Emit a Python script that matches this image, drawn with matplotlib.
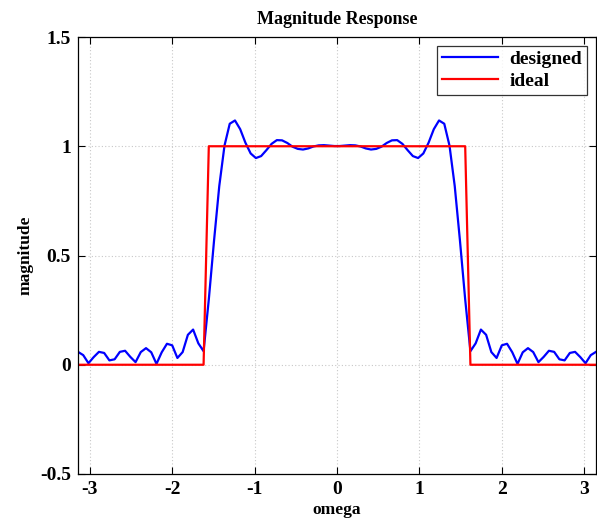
import numpy as np
import matplotlib
matplotlib.use("Agg")
import matplotlib.pyplot as plt

# frequency grid (100 samples from -pi to pi)
omega = np.linspace(-np.pi, np.pi, 100)

# magnitude of designed filter
designed = [
    0.059, 0.044, 0.007, 0.035, 0.059, 0.054, 0.020, 0.025, 0.059, 0.064,
    0.036, 0.012, 0.058, 0.076, 0.057, 0.004, 0.057, 0.096, 0.089, 0.031,
    0.058, 0.137, 0.161, 0.098, 0.062, 0.299, 0.568, 0.818, 1.003, 1.103,
    1.118, 1.078, 1.016, 0.967, 0.946, 0.955, 0.982, 1.011, 1.028, 1.027,
    1.015, 0.998, 0.988, 0.985, 0.990, 0.999, 1.004, 1.005, 1.003, 1.001,
    1.001, 1.003, 1.005, 1.004, 0.999, 0.990, 0.985, 0.988, 0.998, 1.015,
    1.027, 1.028, 1.011, 0.982, 0.955, 0.946, 0.967, 1.016, 1.078, 1.118,
    1.103, 1.003, 0.818, 0.568, 0.299, 0.062, 0.098, 0.161, 0.137, 0.058,
    0.031, 0.089, 0.096, 0.057, 0.004, 0.057, 0.076, 0.058, 0.012, 0.036,
    0.064, 0.059, 0.025, 0.020, 0.054, 0.059, 0.035, 0.007, 0.044, 0.059,
]

# ideal lowpass response
ideal = [
    0, 0, 0, 0, 0, 0, 0, 0, 0, 0,
    0, 0, 0, 0, 0, 0, 0, 0, 0, 0,
    0, 0, 0, 0, 0, 1, 1, 1, 1, 1,
    1, 1, 1, 1, 1, 1, 1, 1, 1, 1,
    1, 1, 1, 1, 1, 1, 1, 1, 1, 1,
    1, 1, 1, 1, 1, 1, 1, 1, 1, 1,
    1, 1, 1, 1, 1, 1, 1, 1, 1, 1,
    1, 1, 1, 1, 1, 0, 0, 0, 0, 0,
    0, 0, 0, 0, 0, 0, 0, 0, 0, 0,
    0, 0, 0, 0, 0, 0, 0, 0, 0, 0,
]

xticks = [-3, -2, -1, 0, 1, 2, 3]
xticklabels = ["-3", "-2", "-1", "0", "1", "2", "3"]
yticks = [-0.5, 0, 0.5, 1, 1.5]
yticklabels = ["-0.5", "0", "0.5", "1", "1.5"]

plt.rcParams['font.family'] = ['Liberation Serif', 'DejaVu Serif']
plt.rcParams['font.weight'] = 'bold'

W, H = 597, 521
fig = plt.figure(figsize=(W / 100, H / 100), dpi=100)
fig.patch.set_facecolor('white')
ax = fig.add_axes([78 / W, 1 - 474 / H, (596 - 78) / W, (474 - 37) / H])

ax.plot(omega, designed, color='#0000ff', lw=1.6, label='designed')
ax.plot(omega, ideal, color='#ff0000', lw=1.6, label='ideal')

ax.set_xlim(-np.pi, np.pi)
ax.set_ylim(-0.5, 1.5)
ax.set_xticks(xticks)
ax.set_xticklabels(xticklabels)
ax.set_yticks(yticks)
ax.set_yticklabels(yticklabels)

ax.grid(True, linestyle=(0, (1, 2)), color='#c8c8c8', lw=0.8)
ax.tick_params(direction='in', top=True, right=True, length=5, width=0.8,
               labelsize=14, pad=5)
for lab in ax.get_xticklabels() + ax.get_yticklabels():
    lab.set_fontweight('bold')
for s in ax.spines.values():
    s.set_linewidth(0.9)
    s.set_color('black')

ax.set_title('Magnitude Response', fontsize=13, fontweight='bold', pad=9)
ax.set_xlabel('omega', fontsize=12.5, fontweight='bold', labelpad=3)
ax.set_ylabel('magnitude', fontsize=12.5, fontweight='bold', labelpad=5)

leg = ax.legend(loc='upper right', fontsize=14, frameon=True, fancybox=False,
                edgecolor='black', handlelength=2.9, borderaxespad=0.45,
                handletextpad=0.6, borderpad=0.25, labelspacing=0.2)
leg.get_frame().set_linewidth(0.9)
for t in leg.get_texts():
    t.set_fontweight('bold')

fig.savefig('out.png', dpi=100)
